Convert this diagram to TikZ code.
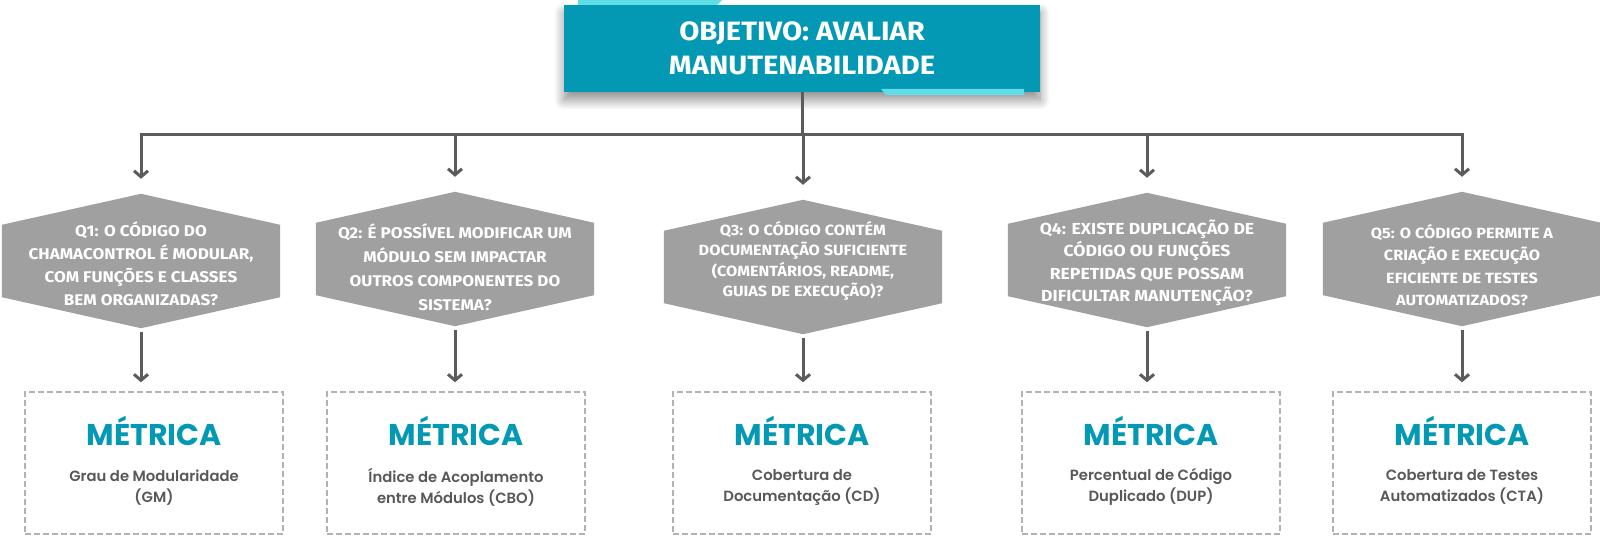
\documentclass[tikz,border=0pt]{standalone}
\usepackage{fontspec}
\setmainfont{Fira Sans}
\newfontfamily\qfont[FakeStretch=1.1]{Fira Sans}
\newfontfamily\popfont{Poppins}
\newfontfamily\popmed{Poppins SemiBold}
\usetikzlibrary{arrows.meta,shadows.blur,calc}
\definecolor{teal1}{RGB}{3,153,181}
\definecolor{cyanacc}{RGB}{95,222,232}
\definecolor{hexgray}{RGB}{160,160,160}
\definecolor{linegray}{RGB}{92,92,92}
\definecolor{dashgray}{RGB}{178,178,178}
\definecolor{descgray}{RGB}{88,88,88}
\newcommand\hexfill[1]{\fill[hexgray] (#1.north) -- ([yshift=-31pt]#1.north east) -- ([yshift=31pt]#1.south east) -- (#1.south) -- ([yshift=31pt]#1.south west) -- ([yshift=-31pt]#1.north west) -- cycle;}
\begin{document}
\begin{tikzpicture}[x=1pt,y=-1pt,
  titlebox/.style={fill=teal1, minimum width=476pt, minimum height=87pt, inner sep=0pt,
    text=white, align=center, font=\qfont\fontsize{26.5}{34}\selectfont\bfseries,
    blur shadow={shadow xshift=0pt, shadow yshift=-8pt, shadow opacity=45, shadow blur radius=10pt, shadow blur steps=12}},
  hexq/.style={minimum width=278pt, minimum height=134pt, inner sep=0pt},
  qtext/.style={text=white, align=center, inner sep=0pt},
  mbox/.style={draw=dashgray, dash pattern=on 6pt off 3pt, line width=1.4pt, minimum width=258pt, minimum height=142pt, inner sep=0pt},
  mtitle/.style={text=teal1, font=\popfont\bfseries\fontsize{30}{34}\selectfont, inner sep=0pt},
  mdesc/.style={text=descgray, font=\popmed\fontsize{14.8}{21}\selectfont, align=center, inner sep=0pt},
  conn/.style={draw=linegray, line width=3pt},
  arr/.style={draw=linegray, line width=3pt, -{Straight Barb[length=6pt,width=14pt]}}
]
\useasboundingbox (0,0) rectangle (1600,537);

% title
\node[titlebox] (title) at (802,48.5) {OBJETIVO: AVALIAR\\MANUTENABILIDADE};
\fill[cyanacc] (578,0) -- (722,0) -- (717,5) -- (578,5) -- cycle;
\fill[cyanacc] (881,89) -- (1024,89) -- (1024,95) -- (886,95) -- cycle;

% hexagons
\node[hexq] (q1) at (141,261) {};
\node[hexq] (q2) at (455,259) {};
\node[hexq] (q3) at (803,267) {};
\node[hexq] (q4) at (1147,260) {};
\node[hexq] (q5) at (1462,259) {};
\hexfill{q1}\hexfill{q2}\hexfill{q3}\hexfill{q4}\hexfill{q5}

\node[qtext, font=\qfont\fontsize{15.5}{23}\selectfont\bfseries] (q1t) at (141,264)
  {Q1: O CÓDIGO DO\\CHAMACONTROL É MODULAR,\\COM FUNÇÕES E CLASSES\\BEM ORGANIZADAS?};
\node[qtext, font=\qfont\fontsize{15.5}{24}\selectfont\bfseries] (q2t) at (455,267)
  {Q2: É POSSÍVEL MODIFICAR UM\\MÓDULO SEM IMPACTAR\\OUTROS COMPONENTES DO\\SISTEMA?};
\node[qtext, font=\qfont\fontsize{14.8}{20.5}\selectfont\bfseries] (q3t) at (803,261)
  {Q3: O CÓDIGO CONTÉM\\DOCUMENTAÇÃO SUFICIENTE\\(COMENTÁRIOS, README,\\GUIAS DE EXECUÇÃO)?};
\node[qtext, font=\qfont\fontsize{16}{22.5}\selectfont\bfseries] (q4t) at (1147,263)
  {Q4: EXISTE DUPLICAÇÃO DE\\CÓDIGO OU FUNÇÕES\\REPETIDAS QUE POSSAM\\DIFICULTAR MANUTENÇÃO?};
\node[qtext, font=\qfont\fontsize{14.8}{22.5}\selectfont\bfseries] (q5t) at (1462,265)
  {Q5: O CÓDIGO PERMITE A\\CRIAÇÃO E EXECUÇÃO\\EFICIENTE DE TESTES\\AUTOMATIZADOS?};

% metric boxes
\node[mbox] (m1) at (154,463) {};
\node[mbox] (m2) at (456,463) {};
\node[mbox] (m3) at (802,463) {};
\node[mbox] (m4) at (1151,463) {};
\node[mbox] (m5) at (1462,463) {};

\foreach \i/\d in {1/{Grau de Modularidade\\(GM)},
                   2/{Índice de Acoplamento\\entre Módulos (CBO)},
                   3/{Cobertura de\\Documentação (CD)},
                   4/{Percentual de Código\\Duplicado (DUP)},
                   5/{Cobertura de Testes\\Automatizados (CTA)}}{
  \node[mtitle] (mt\i) at ([yshift=-40pt]m\i.north) {MÉTRICA};
  \node[mdesc] (md\i) at ([yshift=-96pt]m\i.north) {\d};
}

% connectors
\coordinate (bus) at (0,135);
\draw[conn] (title.south) -- (title.south |- bus);
\draw[conn, line cap=rect] (q1.north |- bus) -- (q5.north |- bus);
\foreach \i in {1,...,5}{
  \draw[arr, shorten >=15pt] (q\i.north |- bus) -- (q\i.north);
  \draw[arr, shorten <=4pt, shorten >=9pt] (q\i.south) -- (m\i.north -| q\i.south);
}
\end{tikzpicture}
\end{document}
